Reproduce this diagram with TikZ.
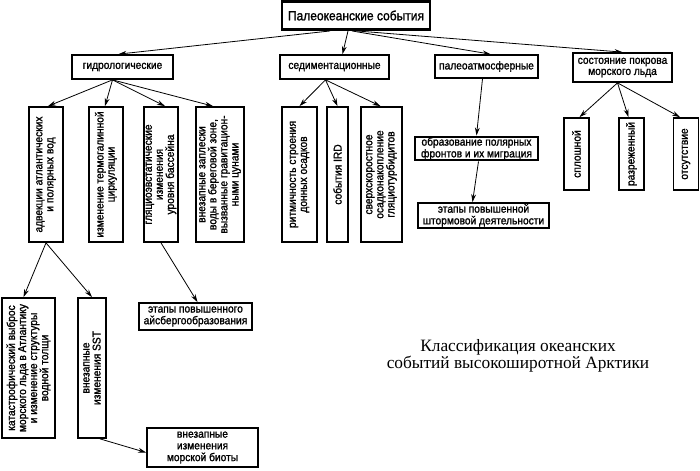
\documentclass[tikz,border=0pt]{standalone}
\usepackage{fontspec}
\newfontfamily\boxfont[FakeStretch=0.9,FakeBold=1.4]{Liberation Sans}
\newfontfamily\titlefont{Liberation Serif}
\usetikzlibrary{arrows.meta,calc}
\begin{document}
\begin{tikzpicture}[x=0.75pt,y=-0.75pt,
  vbox/.style={draw=black, line width=1.3pt, inner sep=0pt},
  vtext/.style={rotate=90, inner sep=0pt, align=center,
    font=\boxfont\fontsize{8.5}{8.3}\selectfont},
  box/.style={vbox, align=center, font=\boxfont\fontsize{8.5}{8.8}\selectfont},
  thickbox/.style={box, line width=2.2pt},
  arr/.style={line width=0.6pt, -{Stealth[length=6pt,width=3.6pt]}},
  ]
\useasboundingbox (0,0) rectangle (700,471);
\fill[white] (0,0) rectangle (700,471);

% level 0
\node[thickbox, minimum width=111pt, minimum height=21pt, font=\boxfont\fontsize{10}{10}\selectfont] (top) at (356,15.5) {Палеокеанские события};

% level 1
\node[box, minimum width=75.75pt, minimum height=18pt] (hydro) at (122.5,67) {гидрологические};
\node[box, minimum width=81.75pt, minimum height=18pt] (sed) at (334.5,67) {седиментационные};
\node[box, minimum width=77.25pt, minimum height=17.25pt] (palaeo) at (486.5,66.5) {палеоатмосферные};
\node[box, minimum width=74.25pt, minimum height=21.75pt, font=\boxfont\fontsize{8.5}{8.3}\selectfont] (ice) at (622.5,67.5) {состояние покрова\\морского льда};

% hydrological children
\node[vbox, minimum width=25.5pt, minimum height=101.25pt] (h1) at (46,174.5) {};
\node[vtext] (h1t) at (h1) {адвекции атлантических\\и полярных вод};
\node[vbox, minimum width=25.5pt, minimum height=101.25pt] (h2) at (106,174.5) {};
\node[vtext] (h2t) at (h2) {изменение термогалинной\\циркуляции};
\node[vbox, minimum width=25.5pt, minimum height=101.25pt] (h3) at (161,174.5) {};
\node[vtext] (h3t) at (h3) {гляциоэвстатические\\изменения\\уровня бассейна};
\node[vbox, minimum width=36pt, minimum height=101.25pt] (h4) at (220,174.5) {};
\node[vtext] (h4t) at (h4) {внезапные заплески\\воды в береговой зоне,\\вызванные гравитацион-\\ными цунами};

% sedimentation children
\node[vbox, minimum width=26.25pt, minimum height=101.25pt] (s1) at (299.5,174.5) {};
\node[vtext] (s1t) at (s1) {ритмичность строения\\донных осадков};
\node[vbox, minimum width=15.75pt, minimum height=101.25pt] (s2) at (337.5,174.5) {};
\node[vtext] (s2t) at (s2) {события IRD};
\node[vbox, minimum width=30.75pt, minimum height=101.25pt] (s3) at (381.5,174.5) {};
\node[vtext] (s3t) at (s3) {сверхскоростное\\осадконакопление\\гляциотурбидитов};

% palaeoatmospheric children
\node[thickbox, minimum width=92.25pt, minimum height=17.25pt] (p1) at (476.5,148.5) {образование полярных\\фронтов и их миграция};
\node[box, minimum width=98.25pt, minimum height=18.75pt] (p2) at (483.5,215.5) {этапы повышенной\\штормовой деятельности};

% sea ice children
\node[vbox, minimum width=18.75pt, minimum height=54pt] (i1) at (576.5,154) {};
\node[vtext] (i1t) at (i1) {сплошной};
\node[vbox, minimum width=18.75pt, minimum height=54pt] (i2) at (631.5,154) {};
\node[vtext] (i2t) at (i2) {разреженный};
\node[vbox, minimum width=18.75pt, minimum height=54pt] (i3) at (686,154) {};
\node[vtext] (i3t) at (i3) {отсутствие};

% lower level
\node[vbox, minimum width=39.75pt, minimum height=105pt] (c1) at (28.5,368) {};
\node[vtext] (c1t) at (c1) {катастрофический выброс\\морского льда в Атлантику\\и изменение структуры\\водной толщи};
\node[vbox, minimum width=21pt, minimum height=105pt] (c2) at (92,368) {};
\node[vtext] (c2t) at (c2) {внезапные\\изменения SST};
\node[box, minimum width=84.75pt, minimum height=20.25pt] (berg) at (195.5,316.5) {этапы повышенного\\айсбергообразования};
\node[box, minimum width=83.25pt, minimum height=29.25pt] (biota) at (202.5,447.5) {внезапные\\изменения\\морской биоты};

% title
\node[align=center, font=\titlefont\fontsize{13}{11.5}\selectfont] (title) at (518,356) {Классификация океанских\\событий высокоширотной Арктики};

% connectors
\draw[arr] ($(top.south)+(-26,0)$) -- ($(hydro.north)+(-4,0)$);
\draw[arr] ($(top.south)+(-8,0)$) -- ($(sed.north)+(8,0)$);
\draw[arr] ($(top.south)+(-4,0)$) -- ($(palaeo.north)+(4,0)$);
\draw[arr] ($(top.south)+(1,0)$) -- (ice.north);

\draw[arr] ($(hydro.south)+(-10,0)$) -- ($(h1.north)+(2,0)$);
\draw[arr] ($(hydro.south)+(-10,0)$) -- ($(h2.north)+(-1,0)$);
\draw[arr] ($(hydro.south)+(-10,0)$) -- ($(h3.north)+(4,0)$);
\draw[arr] ($(hydro.south)+(-10,0)$) -- ($(h4.north)+(-7,0)$);

\draw[arr] ($(sed.south)+(-9,0)$) -- (s1.north);
\draw[arr] ($(sed.south)+(-9,0)$) -- (s2.north);
\draw[arr] ($(sed.south)+(-9,0)$) -- ($(s3.north)+(-1,0)$);

\draw[arr] ($(palaeo.south)+(-4,0)$) -- (p1.north);
\draw[arr] ($(p1.south)+(2,0)$) -- ($(p2.north)+(-11,0)$);

\draw[arr] ($(ice.south)+(-5,0)$) -- ($(i1.north)+(3,0)$);
\draw[arr] ($(ice.south)+(-5,0)$) -- ($(i2.north)+(-3,0)$);
\draw[arr] ($(ice.south)+(-5,0)$) -- ($(i3.north)+(-6,0)$);

\draw[arr] (h1.south) -- ($(c1.north)+(-5,0)$);
\draw[arr] (h1.south) -- (c2.north);
\draw[arr] (h3.south) -- ($(berg.north)+(2,0)$);
\draw[arr] ($(c2.south)+(8,0)$) -- ($(biota.west)+(0,5)$);
\end{tikzpicture}
\end{document}
